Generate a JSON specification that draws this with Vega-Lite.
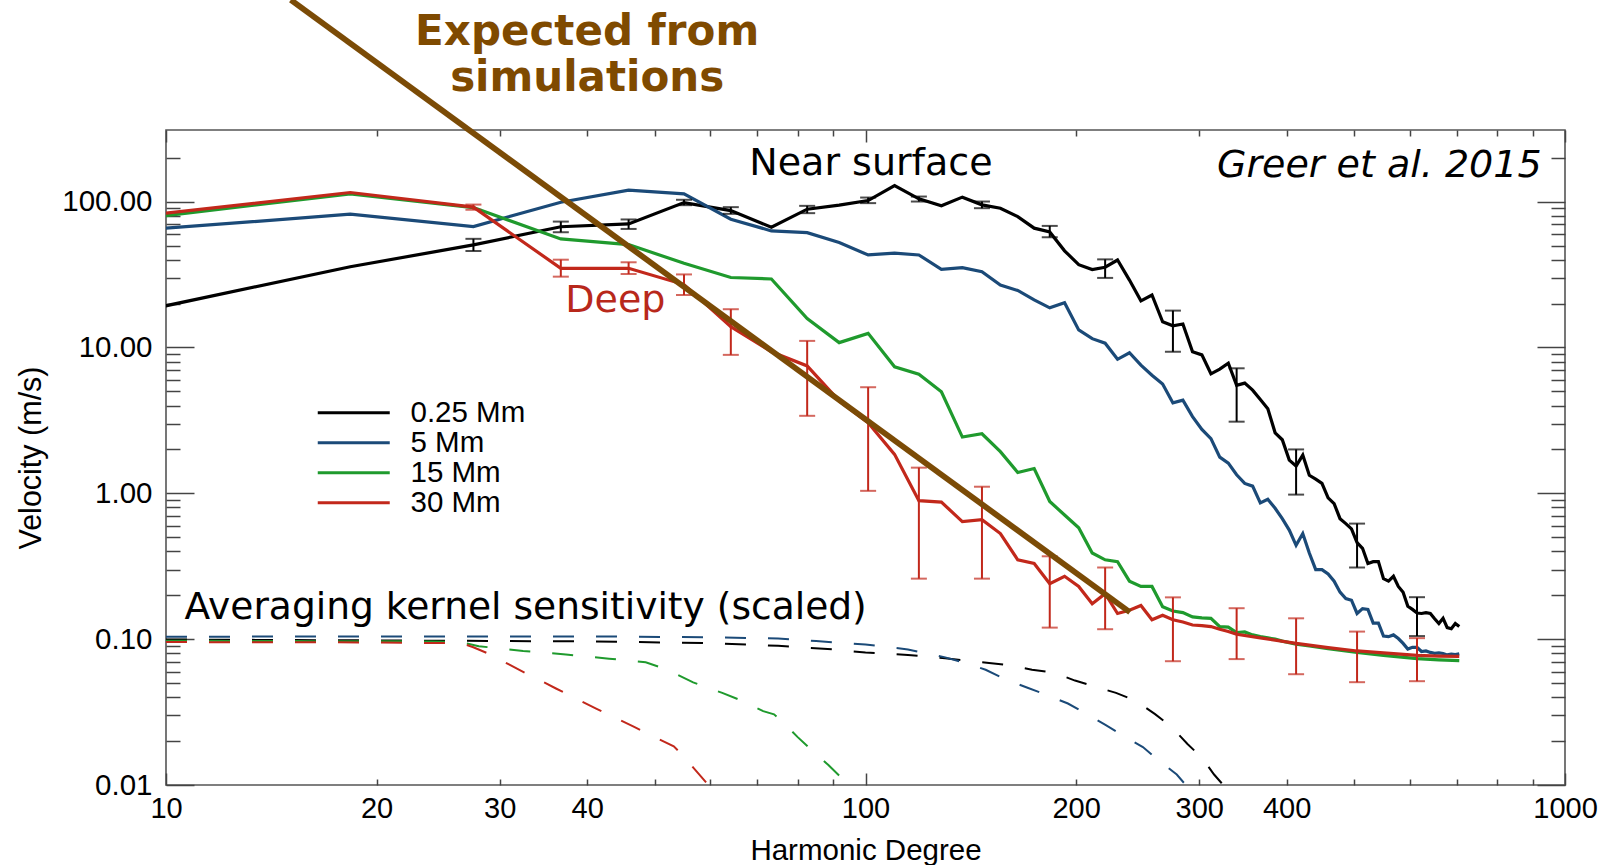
{
  "$schema": "https://vega.github.io/schema/vega-lite/v6.json",
  "width": 1399,
  "height": 655,
  "autosize": {"type": "none"},
  "padding": {"left": 166, "top": 130, "right": 41, "bottom": 80},
  "background": "white",
  "config": {
    "view": {"stroke": "#555555", "strokeWidth": 1.6},
    "axis": {"domain": false, "grid": false, "tickColor": "#444444", "tickWidth": 1.5}
  },
  "datasets": {
    "curves": [
      {"d": "0.25 Mm", "l": 9.17, "v": 17.7},
      {"d": "0.25 Mm", "l": 18.34, "v": 35.8},
      {"d": "0.25 Mm", "l": 27.51, "v": 50.5, "lo": 45.9, "hi": 55.6},
      {"d": "0.25 Mm", "l": 36.68, "v": 67.3, "lo": 61.7, "hi": 73.0},
      {"d": "0.25 Mm", "l": 45.85, "v": 70.4, "lo": 65.0, "hi": 75.5},
      {"d": "0.25 Mm", "l": 55.02, "v": 98.6, "lo": 94.6, "hi": 103},
      {"d": "0.25 Mm", "l": 64.19, "v": 86.9, "lo": 82.5, "hi": 91.7},
      {"d": "0.25 Mm", "l": 73.36, "v": 66.8},
      {"d": "0.25 Mm", "l": 82.53, "v": 88.8, "lo": 83.4, "hi": 93.6},
      {"d": "0.25 Mm", "l": 91.7, "v": 94.6},
      {"d": "0.25 Mm", "l": 100.87, "v": 101.8, "lo": 97.7, "hi": 106.7},
      {"d": "0.25 Mm", "l": 110.04, "v": 129},
      {"d": "0.25 Mm", "l": 119.21, "v": 104.5, "lo": 100.2, "hi": 108.4},
      {"d": "0.25 Mm", "l": 128.38, "v": 93.6},
      {"d": "0.25 Mm", "l": 137.55, "v": 107.4},
      {"d": "0.25 Mm", "l": 146.72, "v": 95.1, "lo": 90.2, "hi": 100.2},
      {"d": "0.25 Mm", "l": 155.89, "v": 90.2},
      {"d": "0.25 Mm", "l": 165.06, "v": 79.0},
      {"d": "0.25 Mm", "l": 174.23, "v": 65.8},
      {"d": "0.25 Mm", "l": 183.4, "v": 62.0, "lo": 57.0, "hi": 68.2},
      {"d": "0.25 Mm", "l": 192.57, "v": 46.0},
      {"d": "0.25 Mm", "l": 201.74, "v": 37.0},
      {"d": "0.25 Mm", "l": 210.91, "v": 34.2},
      {"d": "0.25 Mm", "l": 220.08, "v": 35.5, "lo": 30.0, "hi": 40.2},
      {"d": "0.25 Mm", "l": 229.25, "v": 39.8},
      {"d": "0.25 Mm", "l": 238.42, "v": 29.0},
      {"d": "0.25 Mm", "l": 247.59, "v": 20.9},
      {"d": "0.25 Mm", "l": 256.76, "v": 22.9},
      {"d": "0.25 Mm", "l": 265.93, "v": 15.0},
      {"d": "0.25 Mm", "l": 275.1, "v": 14.1, "lo": 9.35, "hi": 17.9},
      {"d": "0.25 Mm", "l": 284.27, "v": 14.5},
      {"d": "0.25 Mm", "l": 293.44, "v": 9.35},
      {"d": "0.25 Mm", "l": 302.61, "v": 8.9},
      {"d": "0.25 Mm", "l": 311.78, "v": 6.6},
      {"d": "0.25 Mm", "l": 320.95, "v": 7.1},
      {"d": "0.25 Mm", "l": 330.12, "v": 7.8},
      {"d": "0.25 Mm", "l": 339.29, "v": 5.5, "lo": 3.1, "hi": 7.2},
      {"d": "0.25 Mm", "l": 348.46, "v": 5.7},
      {"d": "0.25 Mm", "l": 357.63, "v": 5.1},
      {"d": "0.25 Mm", "l": 366.8, "v": 4.4},
      {"d": "0.25 Mm", "l": 375.97, "v": 3.8},
      {"d": "0.25 Mm", "l": 385.14, "v": 2.6},
      {"d": "0.25 Mm", "l": 394.31, "v": 2.33},
      {"d": "0.25 Mm", "l": 403.48, "v": 1.69},
      {"d": "0.25 Mm", "l": 412.65, "v": 1.54, "lo": 0.98, "hi": 2.0},
      {"d": "0.25 Mm", "l": 421.82, "v": 1.83},
      {"d": "0.25 Mm", "l": 430.99, "v": 1.33},
      {"d": "0.25 Mm", "l": 440.16, "v": 1.25},
      {"d": "0.25 Mm", "l": 449.33, "v": 1.17},
      {"d": "0.25 Mm", "l": 458.5, "v": 0.93},
      {"d": "0.25 Mm", "l": 467.67, "v": 0.85},
      {"d": "0.25 Mm", "l": 476.84, "v": 0.67},
      {"d": "0.25 Mm", "l": 486.01, "v": 0.62},
      {"d": "0.25 Mm", "l": 495.18, "v": 0.57},
      {"d": "0.25 Mm", "l": 504.35, "v": 0.46, "lo": 0.31, "hi": 0.62},
      {"d": "0.25 Mm", "l": 513.52, "v": 0.42},
      {"d": "0.25 Mm", "l": 522.69, "v": 0.33},
      {"d": "0.25 Mm", "l": 531.86, "v": 0.34},
      {"d": "0.25 Mm", "l": 541.03, "v": 0.34},
      {"d": "0.25 Mm", "l": 550.2, "v": 0.26},
      {"d": "0.25 Mm", "l": 559.37, "v": 0.25},
      {"d": "0.25 Mm", "l": 568.54, "v": 0.27},
      {"d": "0.25 Mm", "l": 577.71, "v": 0.23},
      {"d": "0.25 Mm", "l": 586.88, "v": 0.21},
      {"d": "0.25 Mm", "l": 596.05, "v": 0.168},
      {"d": "0.25 Mm", "l": 605.22, "v": 0.16},
      {"d": "0.25 Mm", "l": 614.39, "v": 0.151, "lo": 0.105, "hi": 0.194},
      {"d": "0.25 Mm", "l": 623.56, "v": 0.15},
      {"d": "0.25 Mm", "l": 632.73, "v": 0.152},
      {"d": "0.25 Mm", "l": 641.9, "v": 0.15},
      {"d": "0.25 Mm", "l": 651.07, "v": 0.138},
      {"d": "0.25 Mm", "l": 660.24, "v": 0.128},
      {"d": "0.25 Mm", "l": 669.41, "v": 0.139},
      {"d": "0.25 Mm", "l": 678.58, "v": 0.12},
      {"d": "0.25 Mm", "l": 687.75, "v": 0.118},
      {"d": "0.25 Mm", "l": 696.92, "v": 0.128},
      {"d": "0.25 Mm", "l": 706.09, "v": 0.122},

      {"d": "5 Mm", "l": 9.17, "v": 63.7},
      {"d": "5 Mm", "l": 18.34, "v": 82.0},
      {"d": "5 Mm", "l": 27.51, "v": 67.5},
      {"d": "5 Mm", "l": 36.68, "v": 99.0},
      {"d": "5 Mm", "l": 45.85, "v": 120},
      {"d": "5 Mm", "l": 55.02, "v": 113},
      {"d": "5 Mm", "l": 64.19, "v": 75.8},
      {"d": "5 Mm", "l": 73.36, "v": 63.0},
      {"d": "5 Mm", "l": 82.53, "v": 61.3},
      {"d": "5 Mm", "l": 91.7, "v": 52.4},
      {"d": "5 Mm", "l": 100.87, "v": 43.1},
      {"d": "5 Mm", "l": 110.04, "v": 44.3},
      {"d": "5 Mm", "l": 119.21, "v": 43.1},
      {"d": "5 Mm", "l": 128.38, "v": 34.4},
      {"d": "5 Mm", "l": 137.55, "v": 35.3},
      {"d": "5 Mm", "l": 146.72, "v": 33.1},
      {"d": "5 Mm", "l": 155.89, "v": 26.8},
      {"d": "5 Mm", "l": 165.06, "v": 24.6},
      {"d": "5 Mm", "l": 174.23, "v": 21.2},
      {"d": "5 Mm", "l": 183.4, "v": 18.7},
      {"d": "5 Mm", "l": 192.57, "v": 20.3},
      {"d": "5 Mm", "l": 201.74, "v": 13.2},
      {"d": "5 Mm", "l": 210.91, "v": 11.5},
      {"d": "5 Mm", "l": 220.08, "v": 10.7},
      {"d": "5 Mm", "l": 229.25, "v": 8.3},
      {"d": "5 Mm", "l": 238.42, "v": 9.2},
      {"d": "5 Mm", "l": 247.59, "v": 7.57},
      {"d": "5 Mm", "l": 256.76, "v": 6.46},
      {"d": "5 Mm", "l": 265.93, "v": 5.62},
      {"d": "5 Mm", "l": 275.1, "v": 4.17},
      {"d": "5 Mm", "l": 284.27, "v": 4.35},
      {"d": "5 Mm", "l": 293.44, "v": 3.36},
      {"d": "5 Mm", "l": 302.61, "v": 2.74},
      {"d": "5 Mm", "l": 311.78, "v": 2.37},
      {"d": "5 Mm", "l": 320.95, "v": 1.77},
      {"d": "5 Mm", "l": 330.12, "v": 1.61},
      {"d": "5 Mm", "l": 339.29, "v": 1.34},
      {"d": "5 Mm", "l": 348.46, "v": 1.17},
      {"d": "5 Mm", "l": 357.63, "v": 1.12},
      {"d": "5 Mm", "l": 366.8, "v": 0.86},
      {"d": "5 Mm", "l": 375.97, "v": 0.91},
      {"d": "5 Mm", "l": 385.14, "v": 0.79},
      {"d": "5 Mm", "l": 394.31, "v": 0.67},
      {"d": "5 Mm", "l": 403.48, "v": 0.56},
      {"d": "5 Mm", "l": 412.65, "v": 0.44},
      {"d": "5 Mm", "l": 421.82, "v": 0.53},
      {"d": "5 Mm", "l": 430.99, "v": 0.39},
      {"d": "5 Mm", "l": 440.16, "v": 0.30},
      {"d": "5 Mm", "l": 449.33, "v": 0.30},
      {"d": "5 Mm", "l": 458.5, "v": 0.28},
      {"d": "5 Mm", "l": 467.67, "v": 0.25},
      {"d": "5 Mm", "l": 476.84, "v": 0.21},
      {"d": "5 Mm", "l": 486.01, "v": 0.19},
      {"d": "5 Mm", "l": 495.18, "v": 0.185},
      {"d": "5 Mm", "l": 504.35, "v": 0.15},
      {"d": "5 Mm", "l": 513.52, "v": 0.162},
      {"d": "5 Mm", "l": 522.69, "v": 0.16},
      {"d": "5 Mm", "l": 531.86, "v": 0.129},
      {"d": "5 Mm", "l": 541.03, "v": 0.129},
      {"d": "5 Mm", "l": 550.2, "v": 0.105},
      {"d": "5 Mm", "l": 559.37, "v": 0.104},
      {"d": "5 Mm", "l": 568.54, "v": 0.107},
      {"d": "5 Mm", "l": 577.71, "v": 0.101},
      {"d": "5 Mm", "l": 586.88, "v": 0.0935},
      {"d": "5 Mm", "l": 596.05, "v": 0.0856},
      {"d": "5 Mm", "l": 605.22, "v": 0.0879},
      {"d": "5 Mm", "l": 614.39, "v": 0.088},
      {"d": "5 Mm", "l": 623.56, "v": 0.0823},
      {"d": "5 Mm", "l": 632.73, "v": 0.083},
      {"d": "5 Mm", "l": 641.9, "v": 0.0811},
      {"d": "5 Mm", "l": 651.07, "v": 0.08},
      {"d": "5 Mm", "l": 660.24, "v": 0.0805},
      {"d": "5 Mm", "l": 669.41, "v": 0.0797},
      {"d": "5 Mm", "l": 678.58, "v": 0.078},
      {"d": "5 Mm", "l": 687.75, "v": 0.079},
      {"d": "5 Mm", "l": 696.92, "v": 0.0785},
      {"d": "5 Mm", "l": 706.09, "v": 0.0794},

      {"d": "15 Mm", "l": 9.17, "v": 76.5},
      {"d": "15 Mm", "l": 18.34, "v": 113.1},
      {"d": "15 Mm", "l": 27.51, "v": 91.1},
      {"d": "15 Mm", "l": 36.68, "v": 55.5},
      {"d": "15 Mm", "l": 45.85, "v": 50.8},
      {"d": "15 Mm", "l": 55.02, "v": 37.8},
      {"d": "15 Mm", "l": 64.19, "v": 30.2},
      {"d": "15 Mm", "l": 73.36, "v": 29.5},
      {"d": "15 Mm", "l": 82.53, "v": 15.8},
      {"d": "15 Mm", "l": 91.7, "v": 10.8},
      {"d": "15 Mm", "l": 100.87, "v": 12.5},
      {"d": "15 Mm", "l": 110.04, "v": 7.37},
      {"d": "15 Mm", "l": 119.21, "v": 6.56},
      {"d": "15 Mm", "l": 128.38, "v": 4.97},
      {"d": "15 Mm", "l": 137.55, "v": 2.43},
      {"d": "15 Mm", "l": 146.72, "v": 2.56},
      {"d": "15 Mm", "l": 155.89, "v": 1.93},
      {"d": "15 Mm", "l": 165.06, "v": 1.39},
      {"d": "15 Mm", "l": 174.23, "v": 1.48},
      {"d": "15 Mm", "l": 183.4, "v": 0.88},
      {"d": "15 Mm", "l": 192.57, "v": 0.71},
      {"d": "15 Mm", "l": 201.74, "v": 0.58},
      {"d": "15 Mm", "l": 210.91, "v": 0.39},
      {"d": "15 Mm", "l": 220.08, "v": 0.35},
      {"d": "15 Mm", "l": 229.25, "v": 0.34},
      {"d": "15 Mm", "l": 238.42, "v": 0.25},
      {"d": "15 Mm", "l": 247.59, "v": 0.23},
      {"d": "15 Mm", "l": 256.76, "v": 0.23},
      {"d": "15 Mm", "l": 265.93, "v": 0.167},
      {"d": "15 Mm", "l": 275.1, "v": 0.156},
      {"d": "15 Mm", "l": 284.27, "v": 0.152},
      {"d": "15 Mm", "l": 293.44, "v": 0.142},
      {"d": "15 Mm", "l": 302.61, "v": 0.14},
      {"d": "15 Mm", "l": 311.78, "v": 0.139},
      {"d": "15 Mm", "l": 320.95, "v": 0.122},
      {"d": "15 Mm", "l": 330.12, "v": 0.121},
      {"d": "15 Mm", "l": 339.29, "v": 0.111},
      {"d": "15 Mm", "l": 348.46, "v": 0.112},
      {"d": "15 Mm", "l": 357.63, "v": 0.107},
      {"d": "15 Mm", "l": 366.8, "v": 0.104},
      {"d": "15 Mm", "l": 375.97, "v": 0.102},
      {"d": "15 Mm", "l": 385.14, "v": 0.1},
      {"d": "15 Mm", "l": 394.31, "v": 0.097},
      {"d": "15 Mm", "l": 412.65, "v": 0.0925},
      {"d": "15 Mm", "l": 430.99, "v": 0.09},
      {"d": "15 Mm", "l": 458.5, "v": 0.086},
      {"d": "15 Mm", "l": 504.35, "v": 0.081},
      {"d": "15 Mm", "l": 550.2, "v": 0.0775},
      {"d": "15 Mm", "l": 614.39, "v": 0.0735},
      {"d": "15 Mm", "l": 660.24, "v": 0.0722},
      {"d": "15 Mm", "l": 706.09, "v": 0.0712},

      {"d": "30 Mm", "l": 9.17, "v": 79.6},
      {"d": "30 Mm", "l": 18.34, "v": 115.5},
      {"d": "30 Mm", "l": 27.51, "v": 91.7, "lo": 88.0, "hi": 95.5},
      {"d": "30 Mm", "l": 36.68, "v": 34.9, "lo": 30.6, "hi": 40.0},
      {"d": "30 Mm", "l": 45.85, "v": 34.9, "lo": 31.9, "hi": 38.4},
      {"d": "30 Mm", "l": 55.02, "v": 27.0, "lo": 22.9, "hi": 31.7},
      {"d": "30 Mm", "l": 64.19, "v": 13.9, "lo": 8.9, "hi": 18.3},
      {"d": "30 Mm", "l": 73.36, "v": 9.35},
      {"d": "30 Mm", "l": 82.53, "v": 7.47, "lo": 3.4, "hi": 11.1},
      {"d": "30 Mm", "l": 91.7, "v": 4.3},
      {"d": "30 Mm", "l": 100.87, "v": 3.05, "lo": 1.04, "hi": 5.34},
      {"d": "30 Mm", "l": 110.04, "v": 1.85},
      {"d": "30 Mm", "l": 119.21, "v": 0.89, "lo": 0.26, "hi": 1.5},
      {"d": "30 Mm", "l": 128.38, "v": 0.87},
      {"d": "30 Mm", "l": 137.55, "v": 0.64},
      {"d": "30 Mm", "l": 146.72, "v": 0.66, "lo": 0.26, "hi": 1.11},
      {"d": "30 Mm", "l": 155.89, "v": 0.53},
      {"d": "30 Mm", "l": 165.06, "v": 0.35},
      {"d": "30 Mm", "l": 174.23, "v": 0.33},
      {"d": "30 Mm", "l": 183.4, "v": 0.24, "lo": 0.12, "hi": 0.37},
      {"d": "30 Mm", "l": 192.57, "v": 0.27},
      {"d": "30 Mm", "l": 201.74, "v": 0.23},
      {"d": "30 Mm", "l": 210.91, "v": 0.175},
      {"d": "30 Mm", "l": 220.08, "v": 0.205, "lo": 0.117, "hi": 0.31},
      {"d": "30 Mm", "l": 229.25, "v": 0.15},
      {"d": "30 Mm", "l": 238.42, "v": 0.158},
      {"d": "30 Mm", "l": 247.59, "v": 0.17},
      {"d": "30 Mm", "l": 256.76, "v": 0.136},
      {"d": "30 Mm", "l": 265.93, "v": 0.146},
      {"d": "30 Mm", "l": 275.1, "v": 0.136, "lo": 0.0706, "hi": 0.1935},
      {"d": "30 Mm", "l": 284.27, "v": 0.131},
      {"d": "30 Mm", "l": 293.44, "v": 0.125},
      {"d": "30 Mm", "l": 302.61, "v": 0.124},
      {"d": "30 Mm", "l": 311.78, "v": 0.122},
      {"d": "30 Mm", "l": 320.95, "v": 0.117},
      {"d": "30 Mm", "l": 330.12, "v": 0.113},
      {"d": "30 Mm", "l": 339.29, "v": 0.108, "lo": 0.073, "hi": 0.163},
      {"d": "30 Mm", "l": 366.8, "v": 0.102},
      {"d": "30 Mm", "l": 412.65, "v": 0.0935, "lo": 0.0575, "hi": 0.139},
      {"d": "30 Mm", "l": 458.5, "v": 0.0875},
      {"d": "30 Mm", "l": 504.35, "v": 0.083, "lo": 0.0507, "hi": 0.1127},
      {"d": "30 Mm", "l": 550.2, "v": 0.0805},
      {"d": "30 Mm", "l": 614.39, "v": 0.0775, "lo": 0.0515, "hi": 0.1016},
      {"d": "30 Mm", "l": 660.24, "v": 0.0766},
      {"d": "30 Mm", "l": 706.09, "v": 0.0762}
    ],
    "kernels": [
      {"d": "0.25 Mm", "l": 10, "v": 0.0995},
      {"d": "0.25 Mm", "l": 20, "v": 0.098},
      {"d": "0.25 Mm", "l": 40, "v": 0.0965},
      {"d": "0.25 Mm", "l": 60, "v": 0.094},
      {"d": "0.25 Mm", "l": 75, "v": 0.09},
      {"d": "0.25 Mm", "l": 90, "v": 0.085},
      {"d": "0.25 Mm", "l": 100, "v": 0.081},
      {"d": "0.25 Mm", "l": 115, "v": 0.078},
      {"d": "0.25 Mm", "l": 130, "v": 0.074},
      {"d": "0.25 Mm", "l": 140, "v": 0.071},
      {"d": "0.25 Mm", "l": 150.2, "v": 0.0687},
      {"d": "0.25 Mm", "l": 161.3, "v": 0.066},
      {"d": "0.25 Mm", "l": 173, "v": 0.0617},
      {"d": "0.25 Mm", "l": 185.7, "v": 0.059},
      {"d": "0.25 Mm", "l": 199.3, "v": 0.052},
      {"d": "0.25 Mm", "l": 212.6, "v": 0.0474},
      {"d": "0.25 Mm", "l": 228.1, "v": 0.0428},
      {"d": "0.25 Mm", "l": 243.4, "v": 0.0378},
      {"d": "0.25 Mm", "l": 259.4, "v": 0.0306},
      {"d": "0.25 Mm", "l": 273.8, "v": 0.025},
      {"d": "0.25 Mm", "l": 288.6, "v": 0.0191},
      {"d": "0.25 Mm", "l": 302.6, "v": 0.0154},
      {"d": "0.25 Mm", "l": 315, "v": 0.0118},
      {"d": "0.25 Mm", "l": 324.7, "v": 0.01},
      {"d": "0.25 Mm", "l": 335, "v": 0.0085},

      {"d": "5 Mm", "l": 10, "v": 0.104},
      {"d": "5 Mm", "l": 40, "v": 0.1045},
      {"d": "5 Mm", "l": 60, "v": 0.103},
      {"d": "5 Mm", "l": 75, "v": 0.101},
      {"d": "5 Mm", "l": 85, "v": 0.097},
      {"d": "5 Mm", "l": 100, "v": 0.092},
      {"d": "5 Mm", "l": 115, "v": 0.085},
      {"d": "5 Mm", "l": 130, "v": 0.075},
      {"d": "5 Mm", "l": 140, "v": 0.068},
      {"d": "5 Mm", "l": 148.5, "v": 0.0617},
      {"d": "5 Mm", "l": 158.5, "v": 0.0531},
      {"d": "5 Mm", "l": 170.1, "v": 0.0466},
      {"d": "5 Mm", "l": 181.4, "v": 0.0415},
      {"d": "5 Mm", "l": 194.7, "v": 0.0362},
      {"d": "5 Mm", "l": 206.5, "v": 0.0309},
      {"d": "5 Mm", "l": 220.3, "v": 0.0258},
      {"d": "5 Mm", "l": 233.6, "v": 0.0218},
      {"d": "5 Mm", "l": 249.2, "v": 0.0182},
      {"d": "5 Mm", "l": 262.7, "v": 0.0147},
      {"d": "5 Mm", "l": 278.6, "v": 0.0118},
      {"d": "5 Mm", "l": 287, "v": 0.01},
      {"d": "5 Mm", "l": 295, "v": 0.0088},

      {"d": "15 Mm", "l": 10, "v": 0.0975},
      {"d": "15 Mm", "l": 24, "v": 0.0965},
      {"d": "15 Mm", "l": 26.5, "v": 0.095},
      {"d": "15 Mm", "l": 28, "v": 0.0895},
      {"d": "15 Mm", "l": 32.4, "v": 0.083},
      {"d": "15 Mm", "l": 37.3, "v": 0.0785},
      {"d": "15 Mm", "l": 43, "v": 0.0735},
      {"d": "15 Mm", "l": 48.5, "v": 0.0695},
      {"d": "15 Mm", "l": 52, "v": 0.062},
      {"d": "15 Mm", "l": 56.7, "v": 0.0505},
      {"d": "15 Mm", "l": 62.4, "v": 0.0428},
      {"d": "15 Mm", "l": 66.6, "v": 0.0378},
      {"d": "15 Mm", "l": 71.4, "v": 0.0321},
      {"d": "15 Mm", "l": 74, "v": 0.0305},
      {"d": "15 Mm", "l": 76, "v": 0.0272},
      {"d": "15 Mm", "l": 80, "v": 0.0213},
      {"d": "15 Mm", "l": 84, "v": 0.0171},
      {"d": "15 Mm", "l": 88.5, "v": 0.0137},
      {"d": "15 Mm", "l": 93.1, "v": 0.0108},
      {"d": "15 Mm", "l": 97, "v": 0.0088},

      {"d": "30 Mm", "l": 10, "v": 0.0955},
      {"d": "30 Mm", "l": 20, "v": 0.095},
      {"d": "30 Mm", "l": 25, "v": 0.094},
      {"d": "30 Mm", "l": 26.8, "v": 0.092},
      {"d": "30 Mm", "l": 27.5, "v": 0.088},
      {"d": "30 Mm", "l": 29, "v": 0.079},
      {"d": "30 Mm", "l": 31.8, "v": 0.0625},
      {"d": "30 Mm", "l": 36.1, "v": 0.0459},
      {"d": "30 Mm", "l": 41.2, "v": 0.0334},
      {"d": "30 Mm", "l": 46.7, "v": 0.025},
      {"d": "30 Mm", "l": 53.2, "v": 0.0184},
      {"d": "30 Mm", "l": 54.6, "v": 0.0163},
      {"d": "30 Mm", "l": 59.6, "v": 0.01},
      {"d": "30 Mm", "l": 61, "v": 0.009}
    ],
    "simulation": [
      {"l": 15.08, "v": 2417},
      {"l": 238.8, "v": 0.153}
    ]
  },
  "encoding": {
    "x": {"field": "l", "type": "quantitative", "scale": {"type": "log", "domain": [10, 1000], "nice": false}, "axis": null},
    "y": {"field": "v", "type": "quantitative", "scale": {"type": "log", "domain": [0.01, 310], "nice": false}, "axis": null}
  },
  "layer": [
    {
      "data": {"name": "kernels"},
      "mark": {"type": "line", "strokeWidth": 2, "strokeDash": [21, 22], "clip": true},
      "encoding": {
        "x": {
          "field": "l", "type": "quantitative",
          "scale": {"type": "log", "domain": [10, 1000], "nice": false},
          "axis": {
            "orient": "top",
            "values": [10, 20, 30, 40, 50, 60, 70, 80, 90, 100, 200, 300, 400, 500, 600, 700, 800, 900, 1000],
            "labels": false, "title": null,
            "tickSize": {"condition": {"test": "indexof([10,100,1000], datum.value) >= 0", "value": -12}, "value": -6}
          }
        },
        "y": {
          "field": "v", "type": "quantitative",
          "scale": {"type": "log", "domain": [0.01, 310], "nice": false},
          "axis": {
            "orient": "right",
            "values": [0.01, 0.02, 0.03, 0.04, 0.05, 0.06, 0.07, 0.08, 0.09, 0.1, 0.2, 0.3, 0.4, 0.5, 0.6, 0.7, 0.8, 0.9, 1, 2, 3, 4, 5, 6, 7, 8, 9, 10, 20, 30, 40, 50, 60, 70, 80, 90, 100, 200],
            "labels": false, "title": null,
            "tickSize": {"condition": {"test": "indexof([0.01,0.1,1,10,100], datum.value) >= 0", "value": -28}, "value": -14}
          }
        },
        "color": {"field": "d", "type": "nominal", "legend": null}
      }
    },
    {
      "data": {"name": "curves"},
      "mark": {"type": "line", "strokeWidth": 3.2, "clip": true},
      "encoding": {
        "x": {
          "field": "l", "type": "quantitative",
          "scale": {"type": "log", "domain": [10, 1000], "nice": false},
          "axis": {
            "orient": "bottom",
            "values": [10, 20, 30, 40, 50, 60, 70, 80, 90, 100, 200, 300, 400, 500, 600, 700, 800, 900, 1000],
            "labelExpr": "indexof([10,20,30,40,100,200,300,400,1000], datum.value) >= 0 ? '' + datum.value : ''",
            "tickSize": {"condition": {"test": "indexof([10,100,1000], datum.value) >= 0", "value": -12}, "value": -6},
            "labelFont": "Liberation Sans", "labelFontSize": 29, "labelColor": "#000000",
            "labelPadding": {"condition": {"test": "indexof([10,100,1000], datum.value) >= 0", "value": 21}, "value": 15},
            "labelFlush": false, "labelOverlap": false, "labelBound": false,
            "title": "Harmonic Degree", "titleFont": "Liberation Sans", "titleFontSize": 29.5,
            "titleFontWeight": "normal", "titleColor": "#000000", "titlePadding": 13
          }
        },
        "y": {
          "field": "v", "type": "quantitative",
          "scale": {"type": "log", "domain": [0.01, 310], "nice": false},
          "axis": {
            "orient": "left",
            "values": [0.01, 0.02, 0.03, 0.04, 0.05, 0.06, 0.07, 0.08, 0.09, 0.1, 0.2, 0.3, 0.4, 0.5, 0.6, 0.7, 0.8, 0.9, 1, 2, 3, 4, 5, 6, 7, 8, 9, 10, 20, 30, 40, 50, 60, 70, 80, 90, 100, 200],
            "labelExpr": "indexof([0.01,0.1,1,10,100], datum.value) >= 0 ? format(datum.value, '.2f') : ''",
            "tickSize": {"condition": {"test": "indexof([0.01,0.1,1,10,100], datum.value) >= 0", "value": -28}, "value": -14},
            "labelFont": "Liberation Sans", "labelFontSize": 29.5, "labelColor": "#000000",
            "labelPadding": 42, "labelFlush": false, "labelOverlap": false, "labelBound": false,
            "title": "Velocity (m/s)", "titleFont": "Liberation Sans", "titleFontSize": 30.5,
            "titleFontWeight": "normal", "titleColor": "#000000", "titlePadding": 15
          }
        },
        "color": {
          "field": "d", "type": "nominal",
          "scale": {"domain": ["0.25 Mm", "5 Mm", "15 Mm", "30 Mm"], "range": ["#000000", "#1b4a78", "#1f9a2d", "#c2281b"]},
          "legend": {
            "title": null, "orient": "none", "legendX": 173, "legendY": 268, "direction": "vertical",
            "symbolType": "M-6,0H6", "symbolSize": 144, "symbolStrokeWidth": 3,
            "labelFont": "Liberation Sans", "labelFontSize": 29.5, "labelColor": "#000000",
            "labelOffset": 42, "rowPadding": -1.5, "padding": 0
          }
        }
      }
    },
    {
      "data": {"name": "curves"},
      "transform": [{"filter": "isValid(datum.lo)"}],
      "mark": {"type": "rule", "strokeWidth": 2, "clip": true},
      "encoding": {
        "y": {"field": "lo", "type": "quantitative", "scale": {"type": "log", "domain": [0.01, 310], "nice": false}, "axis": null},
        "y2": {"field": "hi"},
        "color": {"field": "d", "type": "nominal", "legend": null}
      }
    },
    {
      "data": {"name": "curves"},
      "transform": [{"filter": "isValid(datum.lo)"}],
      "mark": {"type": "tick", "orient": "horizontal", "size": 16, "thickness": 2, "clip": true},
      "encoding": {
        "y": {"field": "lo", "type": "quantitative", "scale": {"type": "log", "domain": [0.01, 310], "nice": false}, "axis": null},
        "color": {"field": "d", "type": "nominal", "legend": null}
      }
    },
    {
      "data": {"name": "curves"},
      "transform": [{"filter": "isValid(datum.hi)"}],
      "mark": {"type": "tick", "orient": "horizontal", "size": 16, "thickness": 2, "clip": true},
      "encoding": {
        "y": {"field": "hi", "type": "quantitative", "scale": {"type": "log", "domain": [0.01, 310], "nice": false}, "axis": null},
        "color": {"field": "d", "type": "nominal", "legend": null}
      }
    },
    {
      "data": {"name": "simulation"},
      "mark": {"type": "line", "color": "#7b4b06", "strokeWidth": 5.8, "strokeCap": "butt", "clip": false},
      "encoding": {}
    },
    {
      "data": {"values": [{"t": "Near surface", "l": 101.8, "v": 153}]},
      "mark": {"type": "text", "font": "DejaVu Sans", "fontSize": 38, "color": "#000000", "align": "center", "baseline": "alphabetic"},
      "encoding": {"text": {"field": "t"}}
    },
    {
      "data": {"values": [{"t": "Greer et al. 2015", "l": 926, "v": 147.3}]},
      "mark": {"type": "text", "font": "DejaVu Sans", "fontStyle": "italic", "fontSize": 38, "color": "#000000", "align": "right", "baseline": "alphabetic"},
      "encoding": {"text": {"field": "t"}}
    },
    {
      "data": {"values": [{"t": "Deep", "l": 43.9, "v": 17.6}]},
      "mark": {"type": "text", "font": "DejaVu Sans", "fontSize": 38, "color": "#b8281b", "align": "center", "baseline": "alphabetic"},
      "encoding": {"text": {"field": "t"}}
    },
    {
      "data": {"values": [{"t": "Averaging kernel sensitivity (scaled)", "l": 10.63, "v": 0.1378}]},
      "mark": {"type": "text", "font": "DejaVu Sans", "fontSize": 37.6, "color": "#000000", "align": "left", "baseline": "alphabetic"},
      "encoding": {"text": {"field": "t"}}
    },
    {
      "data": {"values": [
        {"t": "Expected from", "l": 40, "v": 1194},
        {"t": "simulations", "l": 40, "v": 570.5}
      ]},
      "mark": {"type": "text", "font": "DejaVu Sans", "fontWeight": "bold", "fontSize": 42, "color": "#7f4a00", "align": "center", "baseline": "alphabetic"},
      "encoding": {"text": {"field": "t"}}
    }
  ],
  "resolve": {
    "axis": {"x": "independent", "y": "independent"},
    "legend": {"color": "independent"}
  }
}
